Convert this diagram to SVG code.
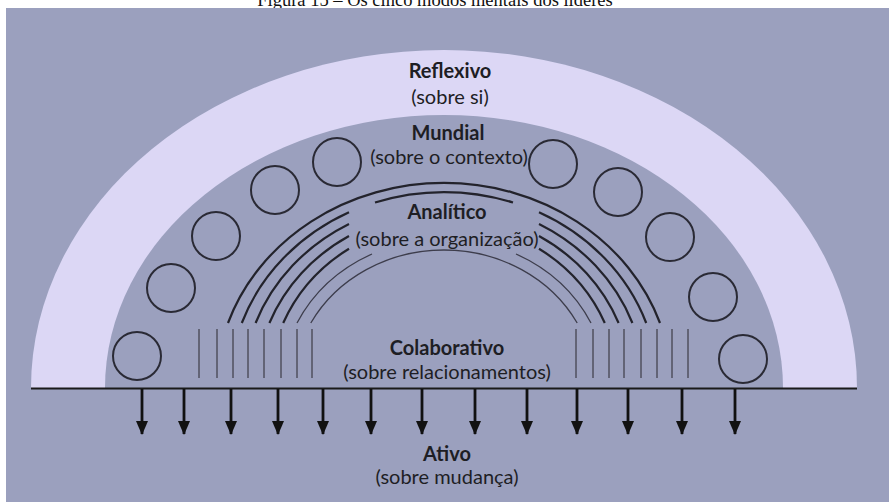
<svg xmlns="http://www.w3.org/2000/svg" width="889" height="502" viewBox="0 0 889 502">
<defs>
<style>
.lbl{font-family:Lato,"Liberation Sans",sans-serif;font-size:20px;fill:#1e1e24;text-anchor:middle}
.b{font-weight:bold}
.circ{fill:none;stroke:#2a2a35;stroke-width:2}
.arc{fill:none;stroke:#23232c;stroke-width:2.2}
.thin{fill:none;stroke:#3d3d4c;stroke-width:1.3}
.vl{stroke:#4a4a58;stroke-width:1.4}
.arr{stroke:#111;stroke-width:2.8}
</style>
<marker id="ah" viewBox="0 0 14 12" refX="13" refY="6" markerWidth="14" markerHeight="12" markerUnits="userSpaceOnUse" orient="auto">
<path d="M0,0 L14,6 L0,12 Z" fill="#111"/>
</marker>
</defs>
<rect x="0" y="0" width="889" height="502" fill="#ffffff"/>
<text x="435" y="6" font-family="'Liberation Serif',serif" font-size="18.5" text-anchor="middle" fill="#111">Figura 15 – Os cinco modos mentais dos líderes</text>
<rect x="6" y="8" width="883" height="494" fill="#9ba0be"/>

<g id="reflexivo">
<path d="M31 388 A413 338 0 0 1 857 388 Z" fill="#dcd7f5"/>
<text class="lbl b" x="450" y="78">Reflexivo</text>
<text class="lbl" x="450" y="104">(sobre si)</text>
</g>

<g id="mundial">
<path d="M105 388 A339 273 0 0 1 783 388 Z" fill="#9ba0be"/>
<circle class="circ" cx="137" cy="356" r="24"/>
<circle class="circ" cx="171" cy="288" r="24"/>
<circle class="circ" cx="216" cy="236" r="24"/>
<circle class="circ" cx="275" cy="190" r="24"/>
<circle class="circ" cx="337" cy="162" r="24"/>
<circle class="circ" cx="553" cy="164" r="24"/>
<circle class="circ" cx="618" cy="192" r="24"/>
<circle class="circ" cx="670" cy="237" r="24"/>
<circle class="circ" cx="713" cy="297" r="24"/>
<circle class="circ" cx="743" cy="359" r="24"/>
<text class="lbl b" x="448" y="140">Mundial</text>
<text class="lbl" x="449" y="164">(sobre o contexto)</text>
</g>

<g id="analitico">
<path class="arc" d="M228 323 A228 206 0 0 1 660 323"/>
<path class="arc" d="M241.8 323 A214.3 196 0 0 1 349 212.3 M375 202.5 A214.3 196 0 0 1 513 202.5 M539 212.3 A214.3 196 0 0 1 646.2 323"/>
<path class="arc" d="M255.6 323 A201.1 186 0 0 1 349 224 M539 224 A201.1 186 0 0 1 632.4 323"/>
<path class="arc" d="M269.4 323 A187.9 176 0 0 1 349 236 M539 236 A187.9 176 0 0 1 618.6 323"/>
<path class="arc" d="M283.2 323 A174.8 166 0 0 1 349 248.7 M539 248.7 A174.8 166 0 0 1 604.8 323"/>
<path class="thin" d="M297 323 A163.1 150 0 0 1 372 254 M516 254 A163.1 150 0 0 1 591 323"/>
<path class="thin" d="M310.8 323 A151 138 0 0 1 577.2 323"/>
<text class="lbl b" x="447" y="219">Analítico</text>
<text class="lbl" x="447" y="246">(sobre a organização)</text>
</g>

<g id="colaborativo">
<g class="vl">
<line x1="199" y1="329" x2="199" y2="378"/><line x1="217" y1="329" x2="217" y2="378"/>
<line x1="233" y1="329" x2="233" y2="378"/><line x1="248" y1="329" x2="248" y2="378"/>
<line x1="264" y1="329" x2="264" y2="378"/><line x1="281" y1="329" x2="281" y2="378"/>
<line x1="297" y1="329" x2="297" y2="378"/><line x1="312" y1="329" x2="312" y2="378"/>
<line x1="576" y1="329" x2="576" y2="378"/><line x1="593" y1="329" x2="593" y2="378"/>
<line x1="609" y1="329" x2="609" y2="378"/><line x1="624" y1="329" x2="624" y2="378"/>
<line x1="641" y1="329" x2="641" y2="378"/><line x1="657" y1="329" x2="657" y2="378"/>
<line x1="672" y1="329" x2="672" y2="378"/><line x1="688" y1="329" x2="688" y2="378"/>
</g>
<text class="lbl b" x="447" y="355">Colaborativo</text>
<text class="lbl" x="447" y="379">(sobre relacionamentos)</text>
</g>

<g id="ativo">
<text class="lbl b" x="447" y="461">Ativo</text>
<text class="lbl" x="447" y="484">(sobre mudança)</text>
</g>

<g id="connectors">
<line x1="31" y1="388.5" x2="857" y2="388.5" stroke="#1a1a1a" stroke-width="2"/>
<g class="arr" marker-end="url(#ah)">
<line x1="142" y1="389" x2="142" y2="434"/>
<line x1="184" y1="389" x2="184" y2="434"/>
<line x1="231" y1="389" x2="231" y2="434"/>
<line x1="278" y1="389" x2="278" y2="434"/>
<line x1="323" y1="389" x2="323" y2="434"/>
<line x1="371" y1="389" x2="371" y2="434"/>
<line x1="422" y1="389" x2="422" y2="434"/>
<line x1="475" y1="389" x2="475" y2="434"/>
<line x1="527" y1="389" x2="527" y2="434"/>
<line x1="577" y1="389" x2="577" y2="434"/>
<line x1="628" y1="389" x2="628" y2="434"/>
<line x1="682" y1="389" x2="682" y2="434"/>
<line x1="735" y1="389" x2="735" y2="434"/>
</g>
</g>
</svg>
